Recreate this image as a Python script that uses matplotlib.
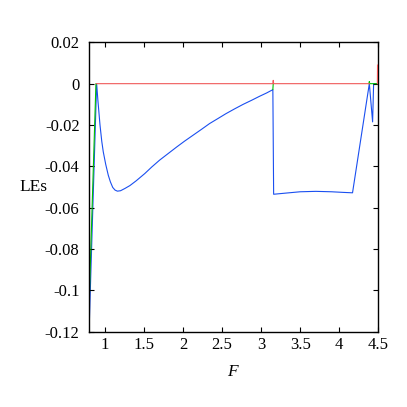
import numpy as np
import matplotlib
matplotlib.use("Agg")
import matplotlib.pyplot as plt

plt.rcParams['font.family'] = ['Liberation Serif', 'DejaVu Serif']

# LE curves
F_blue = [0.80, 0.847, 0.894, 0.91, 0.937, 0.96, 0.979, 1.01, 1.043, 1.07, 1.10, 1.13,
          1.16, 1.20, 1.256, 1.32, 1.40, 1.51, 1.60, 1.70, 1.81, 1.92, 2.02, 2.13,
          2.24, 2.34, 2.45, 2.55, 2.66, 2.77, 2.88, 2.98, 3.07, 3.15, 3.16, 3.30,
          3.50, 3.70, 3.90, 4.05, 4.17, 4.385, 4.427, 4.44, 4.50]
le_blue = [-0.116, -0.058, 0.0, -0.008, -0.020, -0.028, -0.033, -0.039, -0.0443, -0.0475,
           -0.0502, -0.0515, -0.052, -0.0518, -0.0507, -0.0493, -0.047, -0.0435, -0.0403,
           -0.037, -0.0338, -0.0306, -0.0278, -0.0249, -0.022, -0.0193, -0.0168, -0.0145,
           -0.0122, -0.0100, -0.0080, -0.0061, -0.0045, -0.0029, -0.0535, -0.0530,
           -0.0523, -0.0521, -0.0523, -0.0526, -0.0528, 0.0, -0.0185, 0.0, 0.0]

F_green = [0.80, 0.885, 0.89, np.nan, 3.15, 3.155, np.nan, 4.38, 4.385, 4.39, 4.50]
le_green = [-0.104, 0.0, 0.0, np.nan, -0.0028, 0.0, np.nan, 0.0, 0.001, 0.0, 0.0]

F_red = [0.89, 3.15, 3.155, 3.16, 4.385, np.nan, 4.488, 4.49]
le_red = [0.0, 0.0, 0.0016, 0.0, 0.0, np.nan, 0.0, 0.009]

xticks = [1, 1.5, 2, 2.5, 3, 3.5, 4, 4.5]
xticklabels = ['1', '1.5', '2', '2.5', '3', '3.5', '4', '4.5']
yticks = [0.02, 0, -0.02, -0.04, -0.06, -0.08, -0.1, -0.12]
yticklabels = ['0.02', '0', '-0.02', '-0.04', '-0.06', '-0.08', '-0.1', '-0.12']

fig = plt.figure(figsize=(4.07, 4.07), dpi=100)
ax = fig.add_axes([0.2194, 0.185, 0.7101, 0.711])

ax.plot(F_blue, le_blue, color='#1a4ff0', lw=0.8, zorder=1)
ax.plot(F_green, le_green, color='#00c000', lw=0.8, zorder=2)
ax.plot(F_red, le_red, color='#f05a5a', lw=0.8, zorder=3)

ax.set_xlim(0.8, 4.5)
ax.set_ylim(-0.12, 0.02)
ax.set_xticks(xticks)
ax.set_xticklabels(xticklabels)
ax.set_yticks(yticks)
ax.set_yticklabels(yticklabels)
ax.tick_params(direction='in', length=3.6, width=0.8, top=True, right=True,
               labelsize=12)
ax.tick_params(axis='x', pad=4)
ax.tick_params(axis='y', pad=7)
for s in ax.spines.values():
    s.set_linewidth(1.0)

ax.set_xlabel('F', fontsize=12.5, style='italic')
ax.xaxis.set_label_coords(0.494, -0.11)
ax.set_ylabel('LEs', fontsize=12.5, rotation=0, ha='center', va='center')
ax.yaxis.set_label_coords(-0.192, 0.5)

fig.savefig('out.png', dpi=100)
